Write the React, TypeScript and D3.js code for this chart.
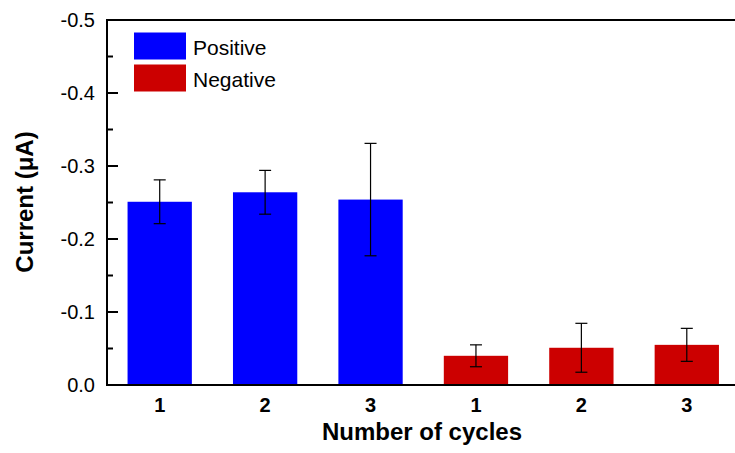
import { useMemo } from "react";
import * as d3 from "d3";

const W = 735;
const H = 453;
const PAD = { top: 20, left: 107, bottom: 385, right: 739.5 };

const cycles = ["1", "2", "3"];
const positiveMean = [-0.251, -0.264, -0.254];
const positiveErr = [0.03, 0.03, 0.077];
const negativeMean = [-0.04, -0.051, -0.055];
const negativeErr = [0.015, 0.0335, 0.0226];
const yTicks = [0, -0.1, -0.2, -0.3, -0.4, -0.5];

const BLUE = "#0000ff";
const RED = "#cc0000";
const FONT = "'Liberation Sans', Arial, sans-serif";

export default function App() {
  const bars = useMemo(
    () => [
      ...cycles.map((c, i) => ({ id: `P${c}`, label: c, v: positiveMean[i], e: positiveErr[i], color: BLUE })),
      ...cycles.map((c, i) => ({ id: `N${c}`, label: c, v: negativeMean[i], e: negativeErr[i], color: RED })),
    ],
    [],
  );

  const x = d3
    .scaleBand()
    .domain(bars.map((b) => b.id))
    .range([PAD.left, PAD.right])
    .paddingInner(0.39)
    .paddingOuter(0.195);

  const y = d3.scaleLinear().domain([0, -0.5]).range([PAD.bottom, PAD.top]);
  const minor = y.ticks(10).filter((t) => !yTicks.some((m) => Math.abs(m - t) < 1e-9));
  const fmt = (d: number) => (d === 0 ? "0.0" : d.toFixed(1));

  return (
    <svg
      width={W}
      height={H}
      style={{ position: "fixed", left: 0, top: 0, background: "#fff" }}
      fontFamily={FONT}
    >
      {bars.map((b) => {
        const cx = x(b.id)! + x.bandwidth() / 2;
        return (
          <g key={b.id}>
            <rect x={x(b.id)} y={y(b.v)} width={x.bandwidth()} height={y(0) - y(b.v)} fill={b.color} />
            <line x1={cx} x2={cx} y1={y(b.v - b.e)} y2={y(b.v + b.e)} stroke="#000" strokeWidth={1.2} />
            <line x1={cx - 6} x2={cx + 6} y1={y(b.v - b.e)} y2={y(b.v - b.e)} stroke="#000" strokeWidth={1.2} />
            <line x1={cx - 6} x2={cx + 6} y1={y(b.v + b.e)} y2={y(b.v + b.e)} stroke="#000" strokeWidth={1.2} />
            <text x={cx} y={412} textAnchor="middle" fontSize={20} fontWeight="bold">
              {b.label}
            </text>
          </g>
        );
      })}

      {/* axes frame */}
      <line x1={PAD.left} x2={PAD.left} y1={PAD.top - 1} y2={PAD.bottom + 1} stroke="#000" strokeWidth={2} />
      <line x1={PAD.left - 1} x2={W} y1={PAD.bottom} y2={PAD.bottom} stroke="#000" strokeWidth={2} />
      <line x1={PAD.left - 1} x2={W} y1={PAD.top} y2={PAD.top} stroke="#000" strokeWidth={2} />

      {yTicks.map((t) => (
        <g key={t}>
          <line x1={PAD.left} x2={PAD.left + 11} y1={y(t)} y2={y(t)} stroke="#000" strokeWidth={2} />
          <text x={95} y={y(t)} dy="0.36em" textAnchor="end" fontSize={20}>
            {fmt(t)}
          </text>
        </g>
      ))}
      {minor.map((t) => (
        <line key={t} x1={PAD.left} x2={PAD.left + 6} y1={y(t)} y2={y(t)} stroke="#000" strokeWidth={2} />
      ))}

      {/* legend */}
      <rect x={134} y={32.5} width={52} height={27} fill={BLUE} />
      <text x={193} y={55} fontSize={21}>Positive</text>
      <rect x={134} y={64.5} width={52} height={27} fill={RED} />
      <text x={193} y={87} fontSize={21}>Negative</text>

      <text x={422} y={440} textAnchor="middle" fontSize={24} fontWeight="bold">
        Number of cycles
      </text>
      <text
        transform="translate(33,202) rotate(-90)"
        textAnchor="middle"
        fontSize={24}
        fontWeight="bold"
      >
        Current (μA)
      </text>
    </svg>
  );
}
